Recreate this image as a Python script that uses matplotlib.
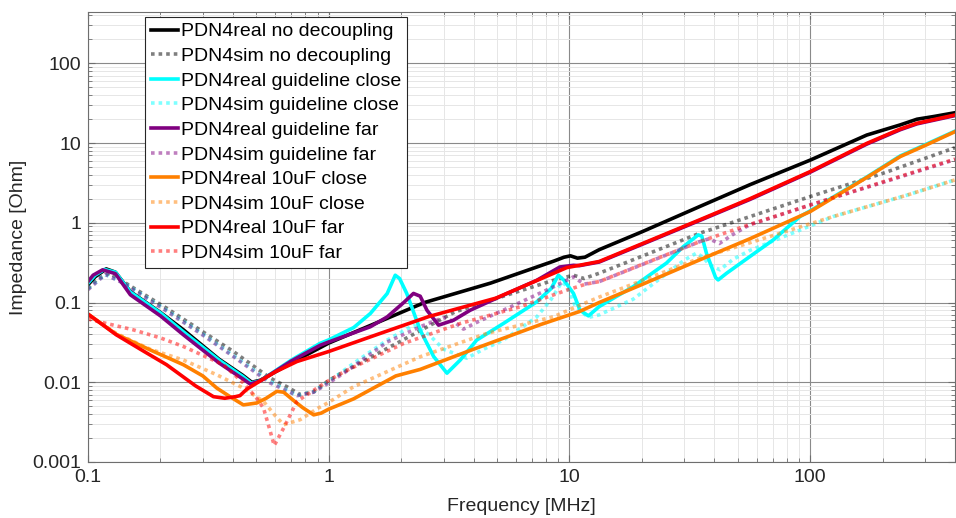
import matplotlib.pyplot as plt
import numpy as np
from matplotlib.ticker import LogLocator, NullFormatter, FixedLocator, FixedFormatter

plt.rcParams["font.family"] = ["Liberation Sans", "DejaVu Sans"]
font_size = 14

# measured / simulated PDN impedance, frequency in MHz, impedance in Ohm
f_real_nodec = [0.1, 0.107, 0.119, 0.13, 0.15, 0.2, 0.249, 0.35, 0.44, 0.479, 0.52, 0.7, 1.0, 1.5, 2.5, 4.7,
                8.6, 9.5, 10.1, 10.8, 11.6, 13.3, 20, 34.8, 56.2, 100, 172, 237, 278, 326, 400]
z_real_nodec = [0.167, 0.21, 0.264, 0.24, 0.137, 0.075, 0.0455, 0.0195, 0.0122, 0.0100, 0.0106, 0.0175, 0.031,
                0.052, 0.1, 0.175, 0.33, 0.37, 0.385, 0.36, 0.37, 0.46, 0.77, 1.6, 3.0, 6.1, 12.6, 16.9, 19.9,
                21.5, 24]

f_sim_nodec = [0.1, 0.11, 0.123, 0.14, 0.212, 0.3, 0.402, 0.571, 0.67, 0.762, 0.866, 1.0, 1.155, 1.5, 2.0, 3.35,
               5.5, 8.58, 10.4, 11.5, 13.3, 20, 34.8, 56, 100, 202, 400]
z_sim_nodec = [0.151, 0.2, 0.233, 0.183, 0.085, 0.043, 0.0243, 0.0113, 0.0088, 0.0070, 0.0076, 0.0105, 0.0135,
               0.0207, 0.033, 0.0764, 0.124, 0.19, 0.22, 0.2, 0.233, 0.38, 0.74, 1.19, 2.13, 4.2, 8.75]

f_real_gclose = [0.1, 0.107, 0.117, 0.13, 0.15, 0.2, 0.249, 0.35, 0.44, 0.476, 0.52, 0.7, 0.92, 1.0, 1.27, 1.49,
                 1.75, 1.89, 1.97, 2.11, 2.4, 2.73, 3.1, 3.52, 4.12, 5.32, 7.32, 8.4, 9.0, 9.5, 10.4, 11.07, 12.0,
                 13.3, 18.4, 25.3, 29.7, 34.3, 35.5, 37.1, 40.5, 41.5, 45, 56.2, 70.3, 90.9, 100, 172, 237, 300, 400]
z_real_gclose = [0.175, 0.22, 0.26, 0.24, 0.135, 0.074, 0.043, 0.019, 0.0118, 0.0098, 0.0104, 0.019, 0.0307, 0.034,
                 0.0485, 0.0729, 0.1296, 0.22, 0.2, 0.13, 0.045, 0.021, 0.013, 0.019, 0.0338, 0.0546, 0.102, 0.15,
                 0.22, 0.19, 0.13, 0.08, 0.068, 0.089, 0.158, 0.312, 0.5, 0.705, 0.68, 0.416, 0.206, 0.192, 0.233,
                 0.377, 0.61, 1.2, 1.41, 3.75, 6.9, 9.5, 14.1]

f_sim_gclose = [0.1, 0.118, 0.14, 0.212, 0.3, 0.402, 0.571, 0.74, 0.866, 1.0, 1.27, 1.75, 2.25, 2.6, 3.0, 3.75,
                4.4, 5.32, 7.32, 8.4, 9.3, 9.8, 10.6, 12.0, 13.3, 18.4, 25.3, 30, 33.7, 36, 38, 42.2, 48, 56.2,
                125, 250, 400]
z_sim_gclose = [0.148, 0.225, 0.178, 0.08, 0.04, 0.0215, 0.0102, 0.0068, 0.0076, 0.0102, 0.0173, 0.0338, 0.052,
                0.04, 0.026, 0.02, 0.026, 0.0338, 0.066, 0.11, 0.18, 0.16, 0.089, 0.065, 0.07, 0.11, 0.23, 0.34,
                0.416, 0.37, 0.3, 0.257, 0.35, 0.45, 1.2, 2.2, 3.45]

f_real_gfar = [0.1, 0.105, 0.115, 0.13, 0.15, 0.2, 0.249, 0.35, 0.44, 0.472, 0.52, 0.7, 0.92, 1.0, 1.49, 1.75,
               2.05, 2.25, 2.4, 2.56, 2.86, 3.3, 3.87, 5.32, 7.32, 9.13, 10.4, 11.0, 13.3, 20, 34.8, 56.2, 100,
               172, 237, 278, 400]
z_real_gfar = [0.183, 0.22, 0.257, 0.23, 0.125, 0.068, 0.0394, 0.0175, 0.011, 0.0095, 0.0104, 0.0185, 0.029,
               0.032, 0.0497, 0.066, 0.1, 0.13, 0.12, 0.08, 0.052, 0.06, 0.08, 0.124, 0.19, 0.279, 0.293, 0.29,
               0.322, 0.535, 1.07, 1.96, 4.3, 9.7, 14.7, 17.4, 22.1]

f_sim_gfar = [0.1, 0.118, 0.14, 0.212, 0.3, 0.402, 0.571, 0.74, 0.866, 1.0, 1.155, 1.75, 2.4, 3.0, 3.3, 3.63,
              4.2, 5.5, 8.58, 10.4, 11.5, 13.3, 20, 34.8, 38, 42, 48, 56, 100, 200, 400]
z_sim_gfar = [0.145, 0.225, 0.175, 0.078, 0.039, 0.021, 0.0098, 0.0068, 0.0075, 0.0098, 0.013, 0.032, 0.0497,
              0.065, 0.058, 0.0464, 0.058, 0.084, 0.157, 0.21, 0.17, 0.183, 0.298, 0.58, 0.63, 0.55, 0.72, 0.94,
              1.67, 3.2, 6.2]

f_real_10close = [0.1, 0.131, 0.181, 0.249, 0.3, 0.343, 0.389, 0.442, 0.503, 0.55, 0.609, 0.65, 0.715, 0.78,
                  0.866, 0.93, 1.0, 1.155, 1.27, 1.9, 2.4, 4.0, 7.6, 11.0, 13.3, 20, 34.8, 56.2, 100, 172, 237,
                  300, 400]
z_real_10close = [0.0716, 0.040, 0.0255, 0.0166, 0.012, 0.00845, 0.0066, 0.0052, 0.0055, 0.0063, 0.0077, 0.0075,
                  0.0059, 0.0048, 0.0039, 0.0041, 0.0046, 0.0055, 0.0062, 0.012, 0.0145, 0.026, 0.053, 0.077, 0.1,
                  0.168, 0.343, 0.63, 1.38, 3.7, 6.77, 9.3, 13.9]

f_sim_10close = [0.1, 0.131, 0.181, 0.249, 0.343, 0.442, 0.536, 0.6, 0.65, 0.762, 0.9, 1.0, 1.27, 2.4, 4.54,
                 8.58, 11.07, 13.3, 20, 34.8, 56, 125, 250, 400]
z_sim_10close = [0.07, 0.041, 0.026, 0.019, 0.0124, 0.00845, 0.00575, 0.0038, 0.00293, 0.0034, 0.0047, 0.0056,
                 0.0088, 0.0209, 0.041, 0.0662, 0.0926, 0.117, 0.188, 0.36, 0.56, 1.2, 2.2, 3.45]

f_real_10far = [0.1, 0.115, 0.131, 0.17, 0.212, 0.28, 0.332, 0.37, 0.41, 0.428, 0.457, 0.503, 0.6, 0.738, 1.0,
                1.6, 2.61, 4.95, 7.0, 9.75, 11.0, 13.3, 20, 34.8, 56.2, 100, 172, 237, 278, 400]
z_real_10far = [0.0716, 0.0526, 0.0394, 0.0246, 0.0166, 0.009, 0.0066, 0.0063, 0.0066, 0.0068, 0.0082, 0.0098,
                0.0135, 0.0182, 0.0243, 0.04, 0.0668, 0.1135, 0.178, 0.274, 0.293, 0.327, 0.545, 1.09, 2.0, 4.38,
                9.9, 15.0, 17.7, 22.5]

f_sim_10far = [0.1, 0.154, 0.2, 0.249, 0.365, 0.442, 0.5, 0.536, 0.57, 0.594, 0.65, 0.738, 0.894, 1.0, 1.155,
               2.05, 3.52, 6.24, 9.75, 11.7, 13.3, 20, 34.8, 56, 100, 200, 400]
z_sim_10far = [0.062, 0.0455, 0.036, 0.0281, 0.0166, 0.0098, 0.0064, 0.00475, 0.0025, 0.00161, 0.00267, 0.00575,
               0.00845, 0.0105, 0.0135, 0.0307, 0.0546, 0.0883, 0.143, 0.17, 0.183, 0.3, 0.58, 0.95, 1.67, 3.25,
               6.3]

x_ticks = [0.1, 1, 10, 100]
x_tick_labels = ["0.1", "1", "10", "100"]
y_ticks = [0.001, 0.01, 0.1, 1, 10, 100]
y_tick_labels = ["0.001", "0.01", "0.1", "1", "10", "100"]

# (freq, impedance, label, colour, linestyle, alpha)
curves = [
    (f_real_nodec, z_real_nodec, "PDN4real no decoupling", "#000000", "-", 1.0),
    (f_sim_nodec, z_sim_nodec, "PDN4sim no decoupling", "#000000", ":", 0.5),
    (f_real_gclose, z_real_gclose, "PDN4real guideline close", "#00ffff", "-", 1.0),
    (f_sim_gclose, z_sim_gclose, "PDN4sim guideline close", "#00ffff", ":", 0.5),
    (f_real_gfar, z_real_gfar, "PDN4real guideline far", "#800080", "-", 1.0),
    (f_sim_gfar, z_sim_gfar, "PDN4sim guideline far", "#800080", ":", 0.5),
    (f_real_10close, z_real_10close, "PDN4real 10uF close", "#ff8000", "-", 1.0),
    (f_sim_10close, z_sim_10close, "PDN4sim 10uF close", "#ff8000", ":", 0.5),
    (f_real_10far, z_real_10far, "PDN4real 10uF far", "#ff0000", "-", 1.0),
    (f_sim_10far, z_sim_10far, "PDN4sim 10uF far", "#ff0000", ":", 0.5),
]

fig = plt.figure(figsize=(9.56, 5.18), dpi=100)
ax = fig.add_axes([88 / 956, 1 - 462 / 518, 867 / 956, 450 / 518])

for f, z, name, col, ls, a in curves:
    if ls == "-":
        ax.plot(f, z, color=col, alpha=a, lw=2.6, label=name, solid_joinstyle="round")
    else:
        ax.plot(f, z, color=col, alpha=a, lw=2.6, label=name, linestyle=(0, (1, 1.1)),
                dash_capstyle="butt")

ax.set_xscale("log")
ax.set_yscale("log")
ax.set_xlim(0.1, 400)
ax.set_ylim(0.001, 440)

ax.xaxis.set_major_locator(FixedLocator(x_ticks))
ax.xaxis.set_major_formatter(FixedFormatter(x_tick_labels))
ax.yaxis.set_major_locator(FixedLocator(y_ticks))
ax.yaxis.set_major_formatter(FixedFormatter(y_tick_labels))
ax.xaxis.set_minor_locator(LogLocator(base=10, subs=np.arange(2, 10), numticks=20))
ax.yaxis.set_minor_locator(LogLocator(base=10, subs=np.arange(2, 10), numticks=20))
ax.xaxis.set_minor_formatter(NullFormatter())
ax.yaxis.set_minor_formatter(NullFormatter())

ax.set_axisbelow(True)
ax.grid(which="major", color="#8a8a8a", lw=0.8)
ax.grid(which="minor", color="#e6e6e6", lw=0.7)
ax.tick_params(which="both", direction="in", top=True, right=True, color="#6e6e6e",
               labelsize=font_size, labelcolor="#262626", pad=5)
ax.tick_params(which="major", length=5, width=0.8)
ax.tick_params(which="minor", length=3, width=0.6)
for s in ax.spines.values():
    s.set_color("#6e6e6e")
    s.set_linewidth(0.8)

ax.set_xlabel("Frequency [MHz]", fontsize=font_size, color="#262626")
ax.set_ylabel("Impedance [Ohm]", fontsize=font_size, color="#262626")
ax.xaxis.set_label_coords(0.5, -0.08)
ax.yaxis.set_label_coords(-0.07, 0.5)

leg = ax.legend(loc="upper left", bbox_to_anchor=((145 - 88) / 867, (462 - 17) / 450), borderaxespad=0,
                fontsize=font_size, handlelength=1.4, handletextpad=0.15, labelspacing=0.36,
                borderpad=0.3, fancybox=False, framealpha=1)
leg.get_frame().set_edgecolor("#262626")
leg.get_frame().set_linewidth(0.8)

fig.savefig("out.png", dpi=100)
